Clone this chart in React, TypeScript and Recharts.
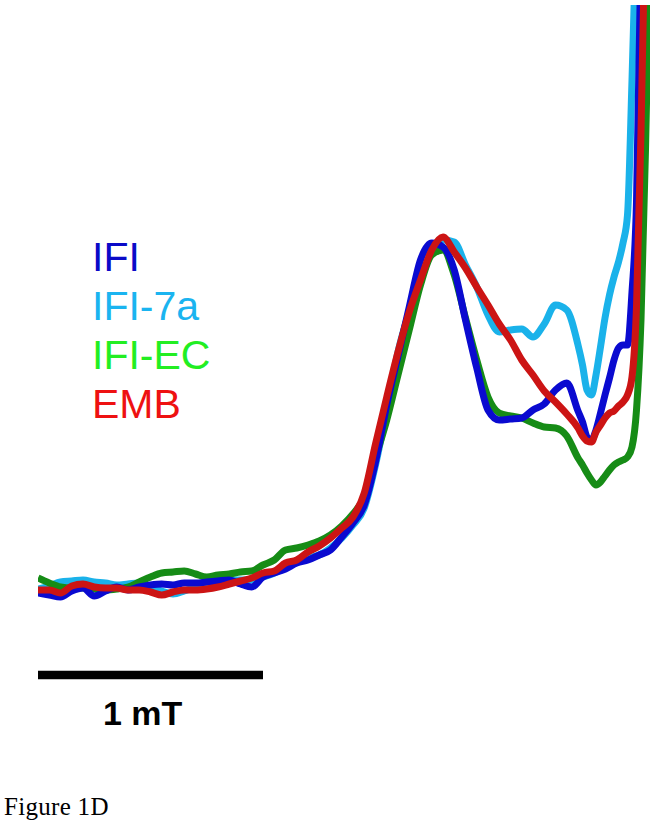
import React from "react";
import { LineChart, Line, XAxis, YAxis } from "recharts";

// Magnetic field offset (mT) for every sample
const fieldMT: number[] = [
  0.0, 0.05, 0.1, 0.15, 0.2, 0.25, 0.3, 0.35, 0.4, 0.45,
  0.5, 0.55, 0.6, 0.65, 0.7, 0.75, 0.8, 0.85, 0.9, 0.95,
  1.0, 1.05, 1.1, 1.15, 1.2, 1.25, 1.3, 1.35, 1.4, 1.45,
  1.5, 1.55, 1.6, 1.65, 1.7, 1.75, 1.8, 1.85, 1.9, 1.95,
  2.0, 2.05, 2.1, 2.15, 2.2, 2.25, 2.3, 2.35, 2.4,
  2.42, 2.44, 2.46, 2.48, 2.5, 2.52, 2.54, 2.56, 2.58, 2.6,
  2.62, 2.64, 2.66, 2.68, 2.7, 2.72,
];

// EPR signal intensities (a.u.)
const ifi: (number | null)[] = [
  -0.01, -0.03, -0.05, 0.01, 0.04, -0.04, 0.01, 0.05, 0.02, 0.05,
  0.07, 0.08, 0.07, 0.09, 0.09, 0.1, 0.11, 0.12, 0.08, 0.05,
  0.15, 0.19, 0.23, 0.29, 0.32, 0.37, 0.42, 0.55, 0.69, 0.87,
  1.3, 1.87, 2.36, 2.85, 3.32, 3.49, 3.45, 3.22, 2.72, 2.24,
  1.82, 1.72, 1.73, 1.74, 1.82, 1.88, 2.02, 2.09, 1.81,
  1.7, 1.55, 1.52, 1.62, 1.79, 1.97, 2.14, 2.32, 2.44, 2.47,
  2.47, 3.0, 3.9, 6.4, null, null,
];

const ifi7a: (number | null)[] = [
  0.03, 0.06, 0.1, 0.11, 0.12, 0.1, 0.09, 0.07, 0.08, 0.09,
  0.05, 0.01, -0.02, 0.01, 0.05, 0.08, 0.1, 0.12, 0.12, 0.12,
  0.15, 0.19, 0.25, 0.3, 0.34, 0.37, 0.44, 0.54, 0.67, 0.84,
  1.27, 1.82, 2.4, 2.8, 3.12, 3.4, 3.52, 3.5, 3.27, 3.05,
  2.77, 2.6, 2.62, 2.63, 2.55, 2.68, 2.87, 2.82, 2.47,
  2.27, 2.02, 1.97, 2.17, 2.45, 2.74, 2.97, 3.15, 3.3, 3.49,
  3.77, 5.12, 6.72, null, null, null,
];

const ifiEC: (number | null)[] = [
  0.14, 0.09, 0.05, 0.04, 0.04, 0.03, 0.02, 0.03, 0.05, 0.1,
  0.15, 0.19, 0.2, 0.21, 0.18, 0.15, 0.17, 0.18, 0.2, 0.21,
  0.27, 0.32, 0.42, 0.44, 0.47, 0.51, 0.57, 0.66, 0.78, 0.95,
  1.34, 1.72, 2.17, 2.62, 3.07, 3.37, 3.42, 3.17, 2.74, 2.32,
  1.95, 1.79, 1.76, 1.74, 1.69, 1.65, 1.64, 1.56, 1.34,
  1.27, 1.19, 1.12, 1.07, 1.1, 1.16, 1.22, 1.27, 1.3, 1.32,
  1.35, 1.45, 1.82, 2.72, 4.42, 6.52,
];

const emb: (number | null)[] = [
  0.02, 0.02, -0.01, 0.06, 0.08, 0.05, 0.04, 0.04, 0.02, 0.02,
  0.0, -0.03, 0.0, 0.02, 0.02, 0.03, 0.05, 0.08, 0.11, 0.14,
  0.19, 0.21, 0.29, 0.32, 0.4, 0.46, 0.54, 0.64, 0.75, 0.99,
  1.48, 1.95, 2.4, 2.8, 3.12, 3.42, 3.55, 3.4, 3.24, 3.05,
  2.87, 2.68, 2.52, 2.32, 2.17, 2.01, 1.9, 1.78, 1.64,
  1.56, 1.51, 1.5, 1.6, 1.67, 1.74, 1.79, 1.81, 1.86, 1.9,
  1.97, 2.15, 2.85, 4.6, 6.9, null,
];

// Scale bar: 1 mT
const scaleBarField: number[] = [0, 1];
const scaleBarLevel = -0.83;
const scaleBarLabel = "1 mT";

const seriesNames = ["IFI", "IFI-7a", "IFI-EC", "EMB"];
const caption = "Figure 1D";

const data = fieldMT.map((f, i) => ({
  field: f,
  ifi: ifi[i],
  ifi7a: ifi7a[i],
  ifiEC: ifiEC[i],
  emb: emb[i],
}));

const scaleBarData = scaleBarField.map((f) => ({ field: f, bar: scaleBarLevel }));

const lineColors = {
  ifi: "#0a0ad0",
  ifi7a: "#1ab2ea",
  ifiEC: "#168c16",
  emb: "#cc1414",
};
const textColors = ["#0a0ac8", "#1ab4f0", "#22ee22", "#ee1111"];

export default function App() {
  return (
    <div style={{ position: "absolute", left: 0, top: 0, width: 660, height: 835, background: "#fff" }}>
      <LineChart
        width={660}
        height={835}
        data={data}
        margin={{ top: 5, right: 10, bottom: 135, left: 38 }}
      >
        <XAxis dataKey="field" type="number" domain={[0, 2.72]} hide allowDataOverflow />
        <YAxis type="number" domain={[-1.08, 5.87]} hide allowDataOverflow />
        <Line dataKey="ifi7a" stroke={lineColors.ifi7a} strokeWidth={7} dot={false} type="monotone" isAnimationActive={false} />
        <Line dataKey="ifiEC" stroke={lineColors.ifiEC} strokeWidth={7} dot={false} type="monotone" isAnimationActive={false} />
        <Line dataKey="ifi" stroke={lineColors.ifi} strokeWidth={7} dot={false} type="monotone" isAnimationActive={false} />
        <Line dataKey="emb" stroke={lineColors.emb} strokeWidth={7} dot={false} type="monotone" isAnimationActive={false} />
        <Line data={scaleBarData} dataKey="bar" stroke="#000" strokeWidth={8.5} strokeLinecap="butt" dot={false} type="linear" isAnimationActive={false} />
      </LineChart>
      <svg width={660} height={835} style={{ position: "absolute", left: 0, top: 0, pointerEvents: "none" }}>
        {seriesNames.map((n, i) => (
          <text key={n} x={92} y={271 + i * 49} fill={textColors[i]} fontFamily="Liberation Sans, Arial, sans-serif" fontSize={41}>
            {n}
          </text>
        ))}
        <text x={103} y={725} fill="#000" fontFamily="Liberation Sans, Arial, sans-serif" fontWeight="bold" fontSize={34}>
          {scaleBarLabel}
        </text>
        <text x={4} y={815} fill="#000" fontFamily="Liberation Serif, serif" fontSize={25} letterSpacing={0.3}>
          {caption}
        </text>
      </svg>
    </div>
  );
}
